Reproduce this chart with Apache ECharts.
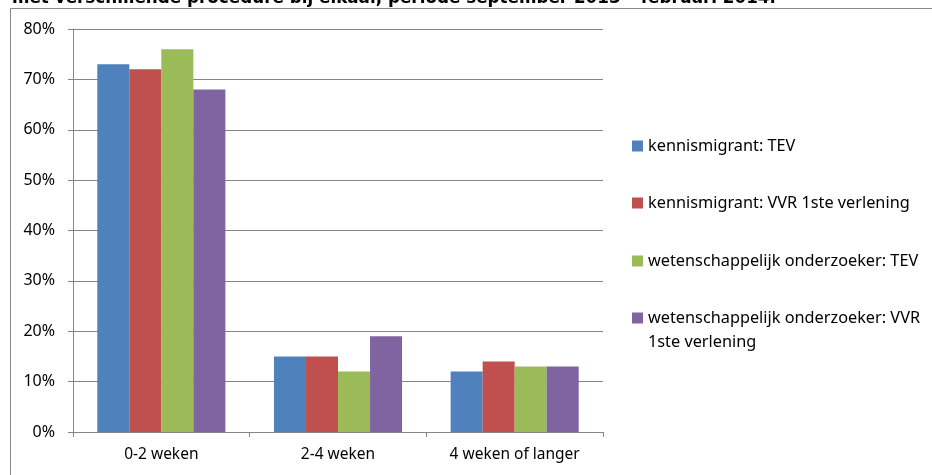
<!DOCTYPE html>
<html>
<head>
<meta charset="utf-8">
<script src="https://cdn.jsdelivr.net/npm/echarts@6/dist/echarts.min.js"></script>
<style>
  html, body { margin: 0; padding: 0; background: #fff; }
  #chart { width: 932px; height: 475px; }
</style>
</head>
<body>
<div id="chart"></div>
<script>
const categories = ['0-2 weken', '2-4 weken', '4 weken of langer']
const seriesNames = [
  'kennismigrant: TEV',
  'kennismigrant: VVR 1ste verlening',
  'wetenschappelijk onderzoeker: TEV',
  'wetenschappelijk onderzoeker: VVR 1ste verlening',
]
const kmTev = [0.73, 0.15, 0.12]
const kmVvr = [0.72, 0.15, 0.14]
const woTev = [0.76, 0.12, 0.13]
const woVvr = [0.68, 0.19, 0.13]
const colors = ['#4F81BD', '#C0504D', '#9BBB59', '#8064A2']
const titleText = 'met verschillende procedure bij elkaar, periode september 2013 \u2013 februari 2014.'

const font = '"Noto Sans", sans-serif'
const values = [kmTev, kmVvr, woTev, woVvr]

const chart = echarts.init(document.getElementById('chart'))

// one legend per item so the wrapped last entry keeps its icon on the first line
const legendTops = [134, 191, 249, 282]
const legends = seriesNames.map((name, i) => ({
  orient: 'vertical',
  left: 632,
  top: legendTops[i],
  padding: 0,
  itemWidth: 11,
  itemHeight: 11,
  itemGap: 0,
  icon: 'rect',
  selectedMode: false,
  data: [name],
  formatter: n =>
    n === seriesNames[3]
      ? '{pad|}\n{t|wetenschappelijk onderzoeker: VVR}\n{t|1ste verlening}'
      : n,
  textStyle: {
    fontFamily: font,
    fontSize: 16.3,
    color: '#000',
    lineHeight: 24,
    rich: {
      pad: { height: 24, lineHeight: 24 },
      t: { fontFamily: font, fontSize: 16.3, color: '#000', lineHeight: 24 },
    },
  },
}))

chart.setOption({
  animation: false,
  backgroundColor: '#fff',
  title: {
    text: titleText,
    left: 12,
    top: -10,
    padding: 0,
    textStyle: {
      fontFamily: 'Verdana, "DejaVu Sans", sans-serif',
      fontSize: 16.8,
      fontWeight: 'bold',
      color: '#000',
    },
  },
  graphic: [
    {
      type: 'rect',
      silent: true,
      shape: { x: 10.5, y: 8.5, width: 940, height: 480 },
      style: { fill: 'none', stroke: '#878787', lineWidth: 1 },
    },
  ],
  legend: legends,
  grid: {
    left: 73,
    right: 329,
    top: 29,
    bottom: 43,
  },
  xAxis: {
    type: 'category',
    data: categories,
    axisLine: { lineStyle: { color: '#868686', width: 1 } },
    axisTick: { show: true, length: 5, lineStyle: { color: '#868686' } },
    axisLabel: {
      fontFamily: font,
      fontSize: 15.5,
      color: '#000',
      margin: 15,
    },
  },
  yAxis: {
    type: 'value',
    min: 0,
    max: 0.8,
    interval: 0.1,
    axisLine: { show: true, lineStyle: { color: '#868686', width: 1 } },
    axisTick: { show: true, length: 5, lineStyle: { color: '#868686' } },
    axisLabel: {
      fontFamily: font,
      fontSize: 16,
      color: '#000',
      margin: 18,
      formatter: v => Math.round(v * 100) + '%',
    },
    splitLine: { lineStyle: { color: '#868686', width: 1 } },
  },
  series: seriesNames.map((name, i) => ({
    name,
    type: 'bar',
    data: values[i],
    barGap: '0%',
    barCategoryGap: '27.5%',
    itemStyle: { color: colors[i] },
  })),
})
</script>
</body>
</html>
